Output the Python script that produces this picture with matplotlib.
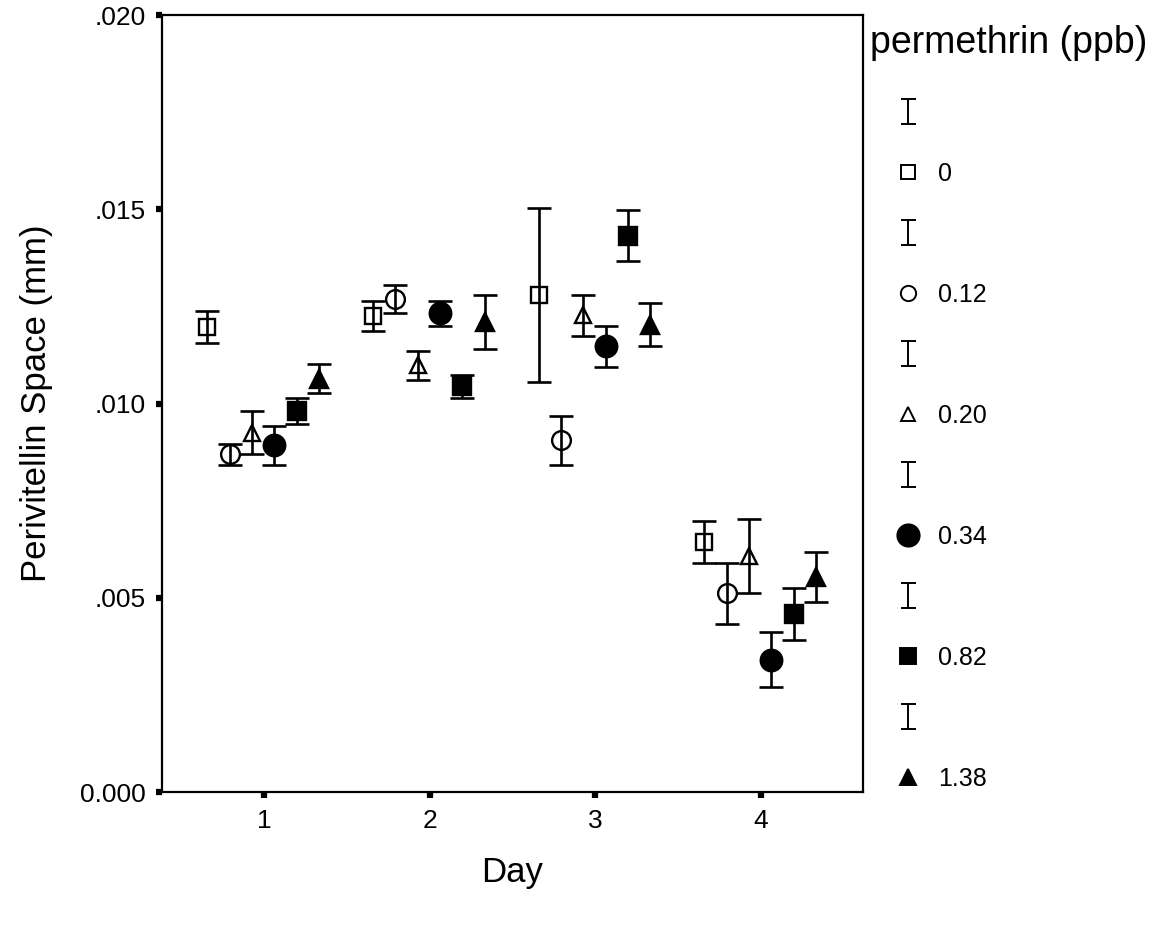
import matplotlib
matplotlib.use("Agg")
import matplotlib.pyplot as plt
from matplotlib.lines import Line2D
from matplotlib.path import Path
from matplotlib.ticker import FixedLocator, FixedFormatter

plt.rcParams['font.family'] = ['Liberation Sans', 'DejaVu Sans']

# data
days = [1, 2, 3, 4]
doses = ['0', '0.12', '0.20', '0.34', '0.82', '1.38']

mean_0 = [0.01197, 0.01225, 0.01279, 0.00644]
err_0 = [0.00040, 0.00039, 0.00224, 0.00054]
mean_012 = [0.00870, 0.01269, 0.00905, 0.00511]
err_012 = [0.00027, 0.00036, 0.00063, 0.00079]
mean_020 = [0.00925, 0.01098, 0.01227, 0.00607]
err_020 = [0.00055, 0.00037, 0.00053, 0.00095]
mean_034 = [0.00892, 0.01232, 0.01147, 0.00341]
err_034 = [0.00050, 0.00032, 0.00053, 0.00071]
mean_082 = [0.00981, 0.01044, 0.01432, 0.00458]
err_082 = [0.00033, 0.00030, 0.00066, 0.00067]
mean_138 = [0.01064, 0.01210, 0.01203, 0.00553]
err_138 = [0.00037, 0.00070, 0.00055, 0.00064]

yticks = [0.0, 0.005, 0.010, 0.015, 0.020]
ytick_labels = ['0.000', '.005', '.010', '.015', '.020']

means = [mean_0, mean_012, mean_020, mean_034, mean_082, mean_138]
errs = [err_0, err_012, err_020, err_034, err_082, err_138]
styles = [
    dict(marker='s', ms=11, mfc='none'),
    dict(marker='o', ms=13.5, mfc='none'),
    dict(marker='^', ms=11, mfc='none'),
    dict(marker='o', ms=15.5, mfc='black'),
    dict(marker='s', ms=12.5, mfc='black'),
    dict(marker='^', ms=12.5, mfc='black'),
]
legend_ms = [10, 11, 10, 16, 11, 11]

fig = plt.figure(figsize=(11.55, 9.32), dpi=100)
ax = fig.add_axes([0.1403, 0.1502, 0.6069, 0.8337])

for i, dose in enumerate(doses):
    xs = [d + (i - 2.5) * 0.135 - 0.005 for d in days]
    st = styles[i]
    ax.errorbar(xs, means[i], yerr=errs[i], fmt='none', ecolor='black',
                elinewidth=1.9, capsize=8.3, capthick=1.9, zorder=2)
    ax.plot(xs, means[i], linestyle='none', marker=st['marker'],
            markersize=st['ms'], markerfacecolor=st['mfc'],
            markeredgecolor='black', markeredgewidth=1.7, zorder=3)

ax.set_xlim(0.384, 4.616)
ax.set_ylim(0, 0.020)
ax.set_xticks(days)
ax.set_xticklabels([str(d) for d in days])
ax.yaxis.set_major_locator(FixedLocator(yticks))
ax.yaxis.set_major_formatter(FixedFormatter(ytick_labels))
ax.tick_params(direction='out', length=4.5, width=4.5, labelsize=19, pad=7.5)
for sp in ax.spines.values():
    sp.set_linewidth(1.6)

ax.set_xlabel('Day', fontsize=25, labelpad=17)
ax.set_ylabel('Perivitellin Space (mm)', fontsize=25, labelpad=19)

# legend title as its own text, then rows: error-bar glyph, marker + dose
fig.text(0.753, 0.954, 'permethrin (ppb)', fontsize=27, ha='left', va='center')

ibar = Path([(-0.6, 1), (0.6, 1), (0, 1), (0, -1), (-0.6, -1), (0.6, -1)],
            [Path.MOVETO, Path.LINETO, Path.MOVETO, Path.LINETO,
             Path.MOVETO, Path.LINETO])
handles = []
labels = []
for i, dose in enumerate(doses):
    handles.append(Line2D([], [], linestyle='none', marker=ibar,
                          markersize=18, markeredgewidth=1.4,
                          markeredgecolor='black', markerfacecolor='none'))
    labels.append(' ')
    st = styles[i]
    handles.append(Line2D([], [], linestyle='none', marker=st['marker'],
                          markersize=legend_ms[i], markerfacecolor=st['mfc'],
                          markeredgecolor='black', markeredgewidth=1.4))
    labels.append(dose)

leg = ax.legend(handles, labels, loc='upper left',
                bbox_to_anchor=(0.773, 0.8915), bbox_transform=fig.transFigure,
                frameon=False, fontsize=18, handlelength=1.2,
                handletextpad=0.6, labelspacing=1.46, borderpad=0,
                borderaxespad=0)

fig.savefig('out.png', dpi=100)
